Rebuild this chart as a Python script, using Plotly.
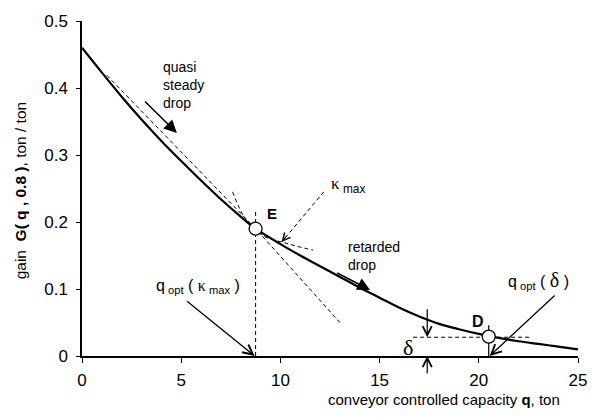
import plotly.graph_objects as go

# ---- main curve G(q, 0.8) ----
Q = [0, 1, 2, 3, 4, 5, 6, 7, 8, 8.75, 10, 11, 12, 13, 14, 15, 16, 17, 18, 19, 20, 21, 22, 23, 24, 25]
G = [0.460, 0.423, 0.387, 0.353, 0.321, 0.291, 0.262, 0.234, 0.208, 0.190, 0.167, 0.150, 0.134,
     0.118, 0.102, 0.087, 0.072, 0.059, 0.048, 0.040, 0.033, 0.027, 0.022, 0.018, 0.014, 0.010]

# ---- key points ----
E_PT = (8.75, 0.190)
D_PT = (20.5, 0.029)
DELTA_LEVEL = 0.028
DELTA_X = 17.4

# ---- guide lines ----
CHORD_X = [1.25, 8.75, 13.03]
CHORD_Y = [0.419, 0.190, 0.049]
ARC_X = [7.59, 8.18, 8.75, 9.22, 9.70, 10.21, 10.80, 11.65]
ARC_Y = [0.245, 0.207, 0.188, 0.178, 0.173, 0.169, 0.164, 0.158]
E_VLINE_Y = [0, 0.215]
D_VLINE_Y = [0, 0.046]
DELTA_HLINE_X = [16.69, 22.63]
KAPPA_ARROW = [(12.19, 0.245), (10.06, 0.170)]

FONT = "Liberation Sans, Arial, sans-serif"
SERIF = "Liberation Serif, Times New Roman, serif"

fig = go.Figure()

dash = dict(color="black", width=1, dash="4px,3px")
fig.add_trace(go.Scatter(x=CHORD_X, y=CHORD_Y, mode="lines", line=dash))
fig.add_trace(go.Scatter(x=ARC_X, y=ARC_Y, mode="lines", line_shape="spline", line=dash))
fig.add_trace(go.Scatter(x=[E_PT[0], E_PT[0]], y=E_VLINE_Y, mode="lines", line=dash))
fig.add_trace(go.Scatter(x=DELTA_HLINE_X, y=[DELTA_LEVEL, DELTA_LEVEL], mode="lines", line=dash))
fig.add_trace(go.Scatter(x=[p[0] for p in KAPPA_ARROW], y=[p[1] for p in KAPPA_ARROW], mode="lines", line=dash))
fig.add_trace(go.Scatter(x=[D_PT[0], D_PT[0]], y=D_VLINE_Y, mode="lines",
                         line=dict(color="black", width=1.2)))
fig.add_trace(go.Scatter(x=Q, y=G, mode="lines", line_shape="spline",
                         line=dict(color="black", width=2.2, smoothing=1.0)))
fig.add_trace(go.Scatter(x=[E_PT[0], D_PT[0]], y=[E_PT[1], D_PT[1]], mode="markers",
                         marker=dict(size=13, color="white", line=dict(color="black", width=1.3))))

ann = []

def arrow(head, tail, style, size, width=1.3):
    ann.append(dict(x=head[0], y=head[1], ax=tail[0], ay=tail[1], xref="x", yref="y",
                    axref="x", ayref="y", text="", showarrow=True, arrowhead=style,
                    arrowsize=size, arrowwidth=width, arrowcolor="black"))

# filled arrows
arrow((4.78, 0.333), (3.10, 0.382), 2, 1.7, 1.5)
arrow((14.52, 0.0985), (12.79, 0.125), 2, 1.7, 1.5)
# open-head arrows
arrow((8.70, 0.0), (5.22, 0.0836), 5, 1.5, 1.3)
arrow((20.55, 0.0), (23.90, 0.0925), 5, 1.5, 1.3)
arrow((DELTA_X, DELTA_LEVEL), (DELTA_X, 0.072), 5, 1.5, 1.2)
arrow((DELTA_X, 0.0), (DELTA_X, -0.028), 5, 1.5, 1.2)
# kappa arrow head (dashed shaft drawn as a trace)
kh, kt = KAPPA_ARROW[1], KAPPA_ARROW[0]
arrow(kh, (kh[0] + 0.15 * (kt[0] - kh[0]), kh[1] + 0.15 * (kt[1] - kh[1])), 5, 1.5, 1.0)

def text(x, y, s, size=14, xanchor="left", yanchor="middle", family=FONT, **kw):
    ann.append(dict(x=x, y=y, xref="x", yref="y", text=s, showarrow=False,
                    xanchor=xanchor, yanchor=yanchor, align="left",
                    font=dict(family=family, size=size, color="black"), **kw))

text(3.98, 0.4045, "quasi<br>steady<br>drop", 14)
text(13.33, 0.149, "retarded<br>drop", 14)
text(9.57, 0.213, "<b>E</b>", 15, xanchor="center")
text(19.95, 0.051, "<b>D</b>", 16, xanchor="center")
text(12.44, 0.2552, "<span style='font-family:Liberation Serif'>κ</span><sub> max</sub>", 17)
text(5.84, 0.103, "q<sub> opt</sub> ( <span style='font-family:Liberation Serif'>κ</span><sub> max</sub> )",
     16, xanchor="center")
text(23.02, 0.112, "q<sub> opt</sub> ( <span style='font-family:Liberation Serif;font-size:20px'>δ</span> )",
     16, xanchor="center")
text(16.45, 0.0134, "δ", 22, xanchor="center", family=SERIF)

# axis titles
ann.append(dict(x=0.729, y=-0.131, xref="paper", yref="paper", showarrow=False,
                text="conveyor controlled capacity <b>q</b>, ton", xanchor="center", yanchor="middle",
                font=dict(family=FONT, size=15, color="black")))
ann.append(dict(x=-0.124, y=0.496, xref="paper", yref="paper", showarrow=False, textangle=-90,
                text="gain  <b>G( q , 0.8 )</b>, ton / ton", xanchor="center", yanchor="middle",
                font=dict(family=FONT, size=15.5, color="black")))

fig.update_layout(
    width=597, height=417,
    margin=dict(l=82, r=10, t=21, b=61),
    paper_bgcolor="white", plot_bgcolor="white",
    showlegend=False,
    annotations=ann,
    font=dict(family=FONT, size=17, color="black"),
)
fig.update_xaxes(range=[0, 25], tickvals=[0, 5, 10, 15, 20, 25], ticktext=["0", "5", "10", "15", "20", "25"],
                 showgrid=False, zeroline=False, showline=True, linecolor="black", linewidth=1.5,
                 ticks="outside", ticklen=5, tickwidth=1.3, tickcolor="black",
                 ticklabelstandoff=3)
fig.update_yaxes(range=[0, 0.5], tickvals=[0, 0.1, 0.2, 0.3, 0.4, 0.5],
                 ticktext=["0", "0.1", "0.2", "0.3", "0.4", "0.5"],
                 showgrid=False, zeroline=False, showline=True, linecolor="black", linewidth=1.5,
                 ticks="outside", ticklen=4, tickwidth=1.3, tickcolor="black",
                 ticklabelstandoff=5)

fig.write_html("out.html")
